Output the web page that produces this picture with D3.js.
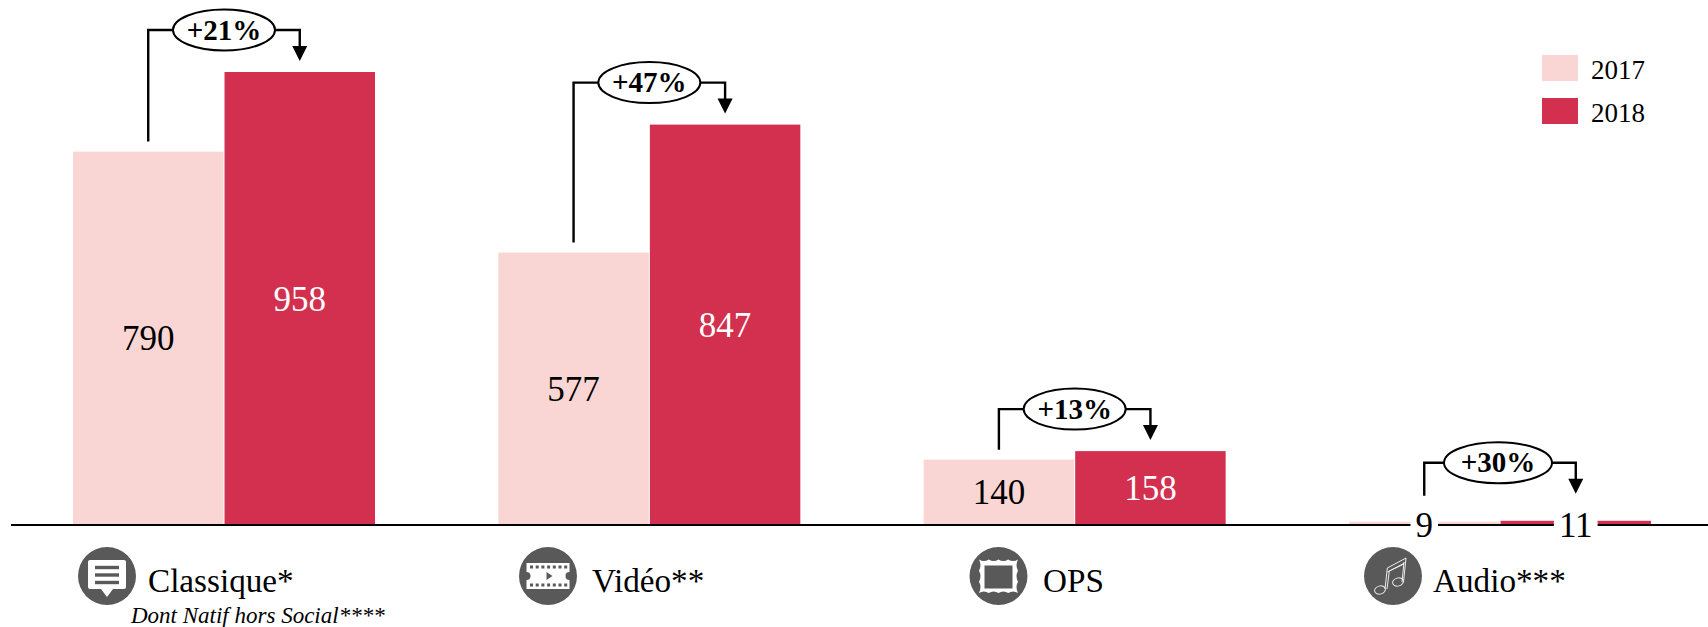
<!DOCTYPE html>
<html><head><meta charset="utf-8">
<script src="https://cdnjs.cloudflare.com/ajax/libs/d3/7.8.5/d3.min.js"></script>
<style>html,body{margin:0;padding:0;background:#fff}svg{display:block}text{font-family:"Liberation Serif",serif;fill:#000}</style>
</head><body><svg id="c" width="1708" height="627"></svg>
<script>
const categories = ["Classique*", "Vidéo**", "OPS", "Audio***"];
const years = ["2017", "2018"];
const values2017 = [790, 577, 140, 9];
const values2018 = [958, 847, 158, 11];
const changes = ["+21%", "+47%", "+13%", "+30%"];
const subLabel = "Dont Natif hors Social****";
const colors = {"2017": "#F9D6D3", "2018": "#D32F4E"};

const W = 1708, H = 627, base = 525;
const svg = d3.select("#c");
const x0 = d3.scaleBand().domain(categories).range([73, 1651]).paddingInner(0.29);
const x1 = d3.scaleBand().domain(years).range([0, x0.bandwidth()]).paddingInner(0.007);
const y = d3.scaleLinear().domain([0, 958]).range([526, 72]);
const color = d3.scaleOrdinal().domain(years).range(years.map(d => colors[d]));
const series = {"2017": values2017, "2018": values2018};

// bars
years.forEach(yr => {
  svg.append("g").selectAll("rect").data(categories).join("rect")
    .attr("x", c => x0(c) + x1(yr))
    .attr("width", x1.bandwidth())
    .attr("y", (c, i) => y(series[yr][i]))
    .attr("height", (c, i) => base - y(series[yr][i]))
    .attr("fill", color(yr));
});

// baseline
svg.append("line").attr("x1", 11).attr("x2", W).attr("y1", base).attr("y2", base)
  .attr("stroke", "#000").attr("stroke-width", 2);

// value labels
years.forEach(yr => {
  categories.forEach((c, i) => {
    const v = series[yr][i];
    const cx = x0(c) + x1(yr) + x1.bandwidth() / 2;
    const small = i === 3;
    const cy = small ? base : (y(v) + base) / 2;
    const g = svg.append("g");
    const t = g.append("text").attr("x", cx).attr("y", cy + 12)
      .attr("text-anchor", "middle").attr("font-size", 35)
      .style("fill", yr === "2018" && !small ? "#fff" : "#000").text(v);
    if (small) {
      const bb = t.node().getBBox();
      g.insert("rect", "text").attr("x", bb.x - 5).attr("width", bb.width + 10)
        .attr("y", base - 10).attr("height", 22).attr("fill", "#fff");
    }
  });
});

// change brackets
const lift = [0, 0, 0, 16];
categories.forEach((c, i) => {
  const a = x0(c) + x1("2017") + x1.bandwidth() / 2;
  const b = x0(c) + x1("2018") + x1.bandwidth() / 2;
  const top = y(values2018[i]);
  const by = top - 42 - lift[i];
  const tip = top - 11 - lift[i];
  const from = y(values2017[i]) - 10 - lift[i];
  const g = svg.append("g");
  g.append("path").attr("d", d3.line()([[a, from], [a, by], [b, by], [b, tip - 12]]))
    .attr("fill", "none").attr("stroke", "#000").attr("stroke-width", 2.4);
  g.append("path").attr("d", d3.line()([[b - 7.5, tip - 15], [b + 7.5, tip - 15], [b, tip]]) + "Z").attr("fill", "#000");
  g.append("ellipse").attr("cx", (a + b) / 2 - (i === 3 ? 2 : 0)).attr("cy", by).attr("rx", i === 3 ? 54 : 51).attr("ry", 20.5)
    .attr("fill", "#fff").attr("stroke", "#000").attr("stroke-width", 2);
  g.append("text").attr("x", (a + b) / 2 - (i === 3 ? 2 : 0)).attr("y", by + 9.5).attr("text-anchor", "middle")
    .attr("font-size", 29).attr("font-weight", "bold").text(changes[i]);
});

// category labels and icons
const labelX = [148, 592, 1043, 1433];
const iconX = [107, 548, 998.5, 1393];
const iconY = 576;
const grey = "#595959";
categories.forEach((c, i) => {
  svg.append("circle").attr("cx", iconX[i]).attr("cy", iconY).attr("r", 29).attr("fill", grey);
  svg.append("text").attr("x", labelX[i]).attr("y", 592).attr("font-size", 33.2).text(c);
});
svg.append("text").attr("x", 131).attr("y", 623).attr("font-size", 23)
  .attr("font-style", "italic").text(subLabel);

// icon: speech bubble
(() => { const g = svg.append("g").attr("transform", `translate(${iconX[0]},${iconY})`);
  g.append("path").attr("d", "M-17,-16 H17 Q19,-16 19,-14 V11 Q19,13 17,13 H6 L0,21 L-6,13 H-17 Q-19,13 -19,11 V-14 Q-19,-16 -17,-16 Z").attr("fill", "#fff");
  [-8.5, -1, 6.5].forEach(d => g.append("rect").attr("x", -12).attr("y", d - 1.7).attr("width", 24).attr("height", 3.4).attr("fill", grey));
})();
// icon: film
(() => { const g = svg.append("g").attr("transform", `translate(${iconX[1]},${iconY})`);
  g.append("path").attr("d", "M-21.5,-13 H21.5 V-4 A4,4 0 0 0 21.5,4 V13 H-21.5 V4 A4,4 0 0 0 -21.5,-4 Z").attr("fill", "#fff");
  d3.range(-18, 17, 5.7).forEach(d => { [-10.5, 7.5].forEach(yy => g.append("rect").attr("x", d).attr("y", yy).attr("width", 3).attr("height", 3).attr("fill", grey)); });
  g.append("path").attr("d", "M-1.5,-4 L4.5,0 L-1.5,4 Z").attr("fill", grey);
})();
// icon: stamp
(() => { const g = svg.append("g").attr("transform", `translate(${iconX[2]},${iconY})`);
  const L = -19.5, R = 19.5, T = -16.5, B = 17, nx = 4, ny = 3;
  const dx = (R - L) / nx, dy = (B - T) / ny;
  let d = `M${L},${T}`;
  d3.range(nx).forEach(() => d += `q${dx / 2},3 ${dx},0`);
  d3.range(ny).forEach(() => d += `q-3,${dy / 2} 0,${dy}`);
  d3.range(nx).forEach(() => d += `q${-dx / 2},-3 ${-dx},0`);
  d3.range(ny).forEach(() => d += `q3,${-dy / 2} 0,${-dy}`);
  g.append("path").attr("d", d + "Z").attr("fill", "#fff");
  g.append("rect").attr("x", -14).attr("y", -10.5).attr("width", 28).attr("height", 23).attr("fill", grey);
})();
// icon: music
(() => { const g = svg.append("g").attr("transform", `translate(${iconX[3]},${iconY})`).attr("fill", "none").attr("stroke", "#ececec").attr("stroke-width", 1);
  g.append("ellipse").attr("cx", -13).attr("cy", 14).attr("rx", 5.5).attr("ry", 4).attr("transform", "rotate(-15 -13 14)");
  g.append("ellipse").attr("cx", 5).attr("cy", 6).attr("rx", 5.5).attr("ry", 4).attr("transform", "rotate(-15 5 6)");
  g.append("path").attr("d", "M-8,13 L-5.7,-8 L13,-18 L10.5,6 M-6,13 L-3.7,-5 L11.5,-13 M9,6 L11,-14 M-5.7,-4 L11,-12");
})();

// legend
years.forEach((yr, i) => {
  svg.append("rect").attr("x", 1542).attr("y", 55 + i * 43).attr("width", 36).attr("height", 26).attr("fill", color(yr));
  svg.append("text").attr("x", 1591).attr("y", 79 + i * 43).attr("font-size", 27).text(yr);
});
</script></body></html>
